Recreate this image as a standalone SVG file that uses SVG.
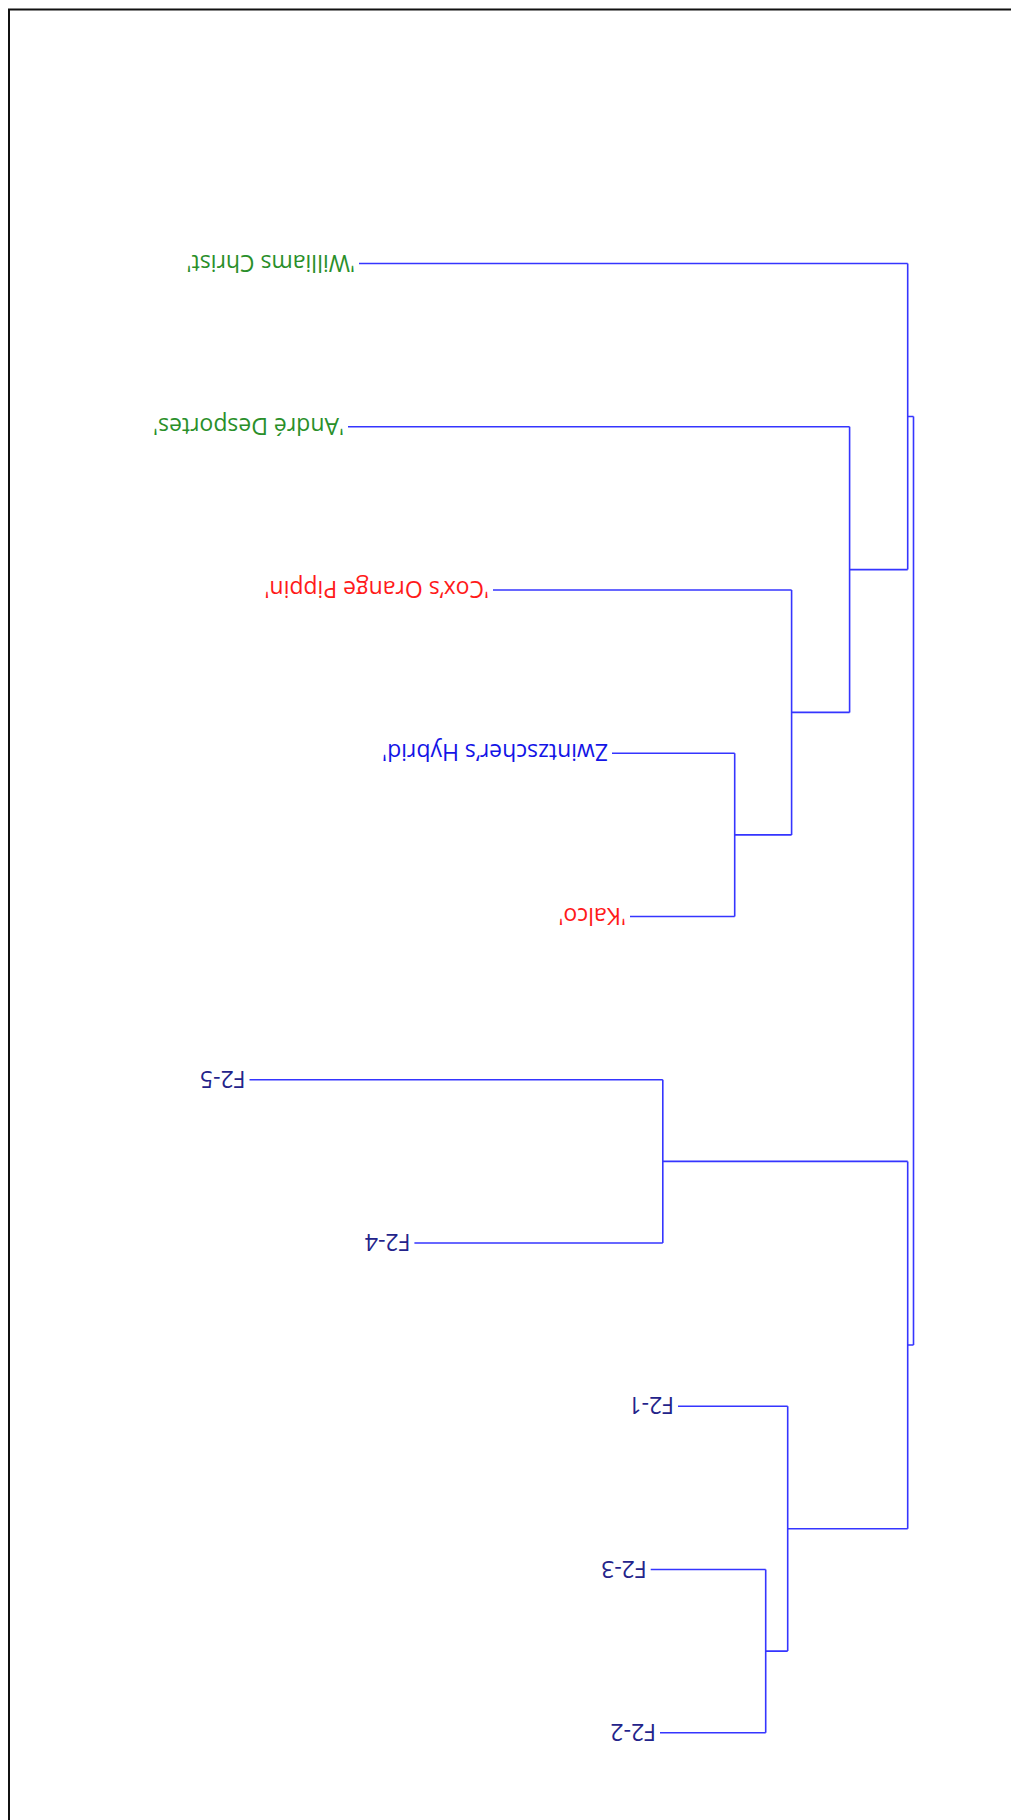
<svg xmlns="http://www.w3.org/2000/svg" width="1011" height="1820" viewBox="0 0 1011 1820">
<style>
.frame{fill:none;stroke:#111;stroke-width:2}
.edge{fill:none;stroke:#3535ff;stroke-width:1.6}
.lbl{font-family:"Open Sans","Noto Sans","Liberation Sans",sans-serif;font-size:23px;dominant-baseline:central;text-anchor:start}
.green{fill:#2a8f2a}
.red{fill:#ff1a1a}
.blue{fill:#1414e6}
.navy{fill:#23238a}
</style>
<rect width="1011" height="1820" fill="#fff"/>
<path class="frame" d="M9,1820 V9.5 H1011"/>
<g id="connectors">
<path class="edge" d="M359,263.5 H907.7"/>
<path class="edge" d="M348,426.8 H849.6"/>
<path class="edge" d="M493,590 H791.6"/>
<path class="edge" d="M612,753.3 H734.7"/>
<path class="edge" d="M630,916.5 H734.7"/>
<path class="edge" d="M734.7,753.3 V916.5 M734.7,834.9 H791.6"/>
<path class="edge" d="M791.6,590 V834.9 M791.6,712.4 H849.6"/>
<path class="edge" d="M849.6,426.8 V712.4 M849.6,569.6 H907.7"/>
<path class="edge" d="M907.7,263.5 V569.6 M907.7,416.5 H913.5"/>
<path class="edge" d="M249.5,1079.8 H662.8"/>
<path class="edge" d="M414.4,1243 H662.8"/>
<path class="edge" d="M662.8,1079.8 V1243 M662.8,1161.4 H907.7"/>
<path class="edge" d="M678,1406.3 H787.7"/>
<path class="edge" d="M650.7,1569.5 H765.7"/>
<path class="edge" d="M660,1732.8 H765.7"/>
<path class="edge" d="M765.7,1569.5 V1732.8 M765.7,1651.1 H787.7"/>
<path class="edge" d="M787.7,1406.3 V1651.1 M787.7,1528.7 H907.7"/>
<path class="edge" d="M907.7,1161.4 V1528.7 M907.7,1345 H913.5"/>
<path class="edge" d="M913.5,416.5 V1345"/>
</g>
<g id="node-williams-christ"><text class="lbl green" transform="translate(355,263.5) rotate(180)">'Williams Christ'</text></g>
<g id="node-andre-desportes"><text class="lbl green" transform="translate(344,426.8) rotate(180)">'André Desportes'</text></g>
<g id="node-coxs-orange-pippin"><text class="lbl red" transform="translate(489,590) rotate(180)">'Cox’s Orange Pippin'</text></g>
<g id="node-zwintzschers-hybrid"><text class="lbl blue" transform="translate(608,753.3) rotate(180)">Zwintzscher’s Hybrid'</text></g>
<g id="node-kalco"><text class="lbl red" transform="translate(626,916.5) rotate(180)">'Kalco'</text></g>
<g id="node-f2-5"><text class="lbl navy" transform="translate(245.5,1079.8) rotate(180)">F2-5</text></g>
<g id="node-f2-4"><text class="lbl navy" transform="translate(410.4,1243) rotate(180)">F2-4</text></g>
<g id="node-f2-1"><text class="lbl navy" transform="translate(674,1406.3) rotate(180)">F2-1</text></g>
<g id="node-f2-3"><text class="lbl navy" transform="translate(646.7,1569.5) rotate(180)">F2-3</text></g>
<g id="node-f2-2"><text class="lbl navy" transform="translate(656,1732.8) rotate(180)">F2-2</text></g>
</svg>
